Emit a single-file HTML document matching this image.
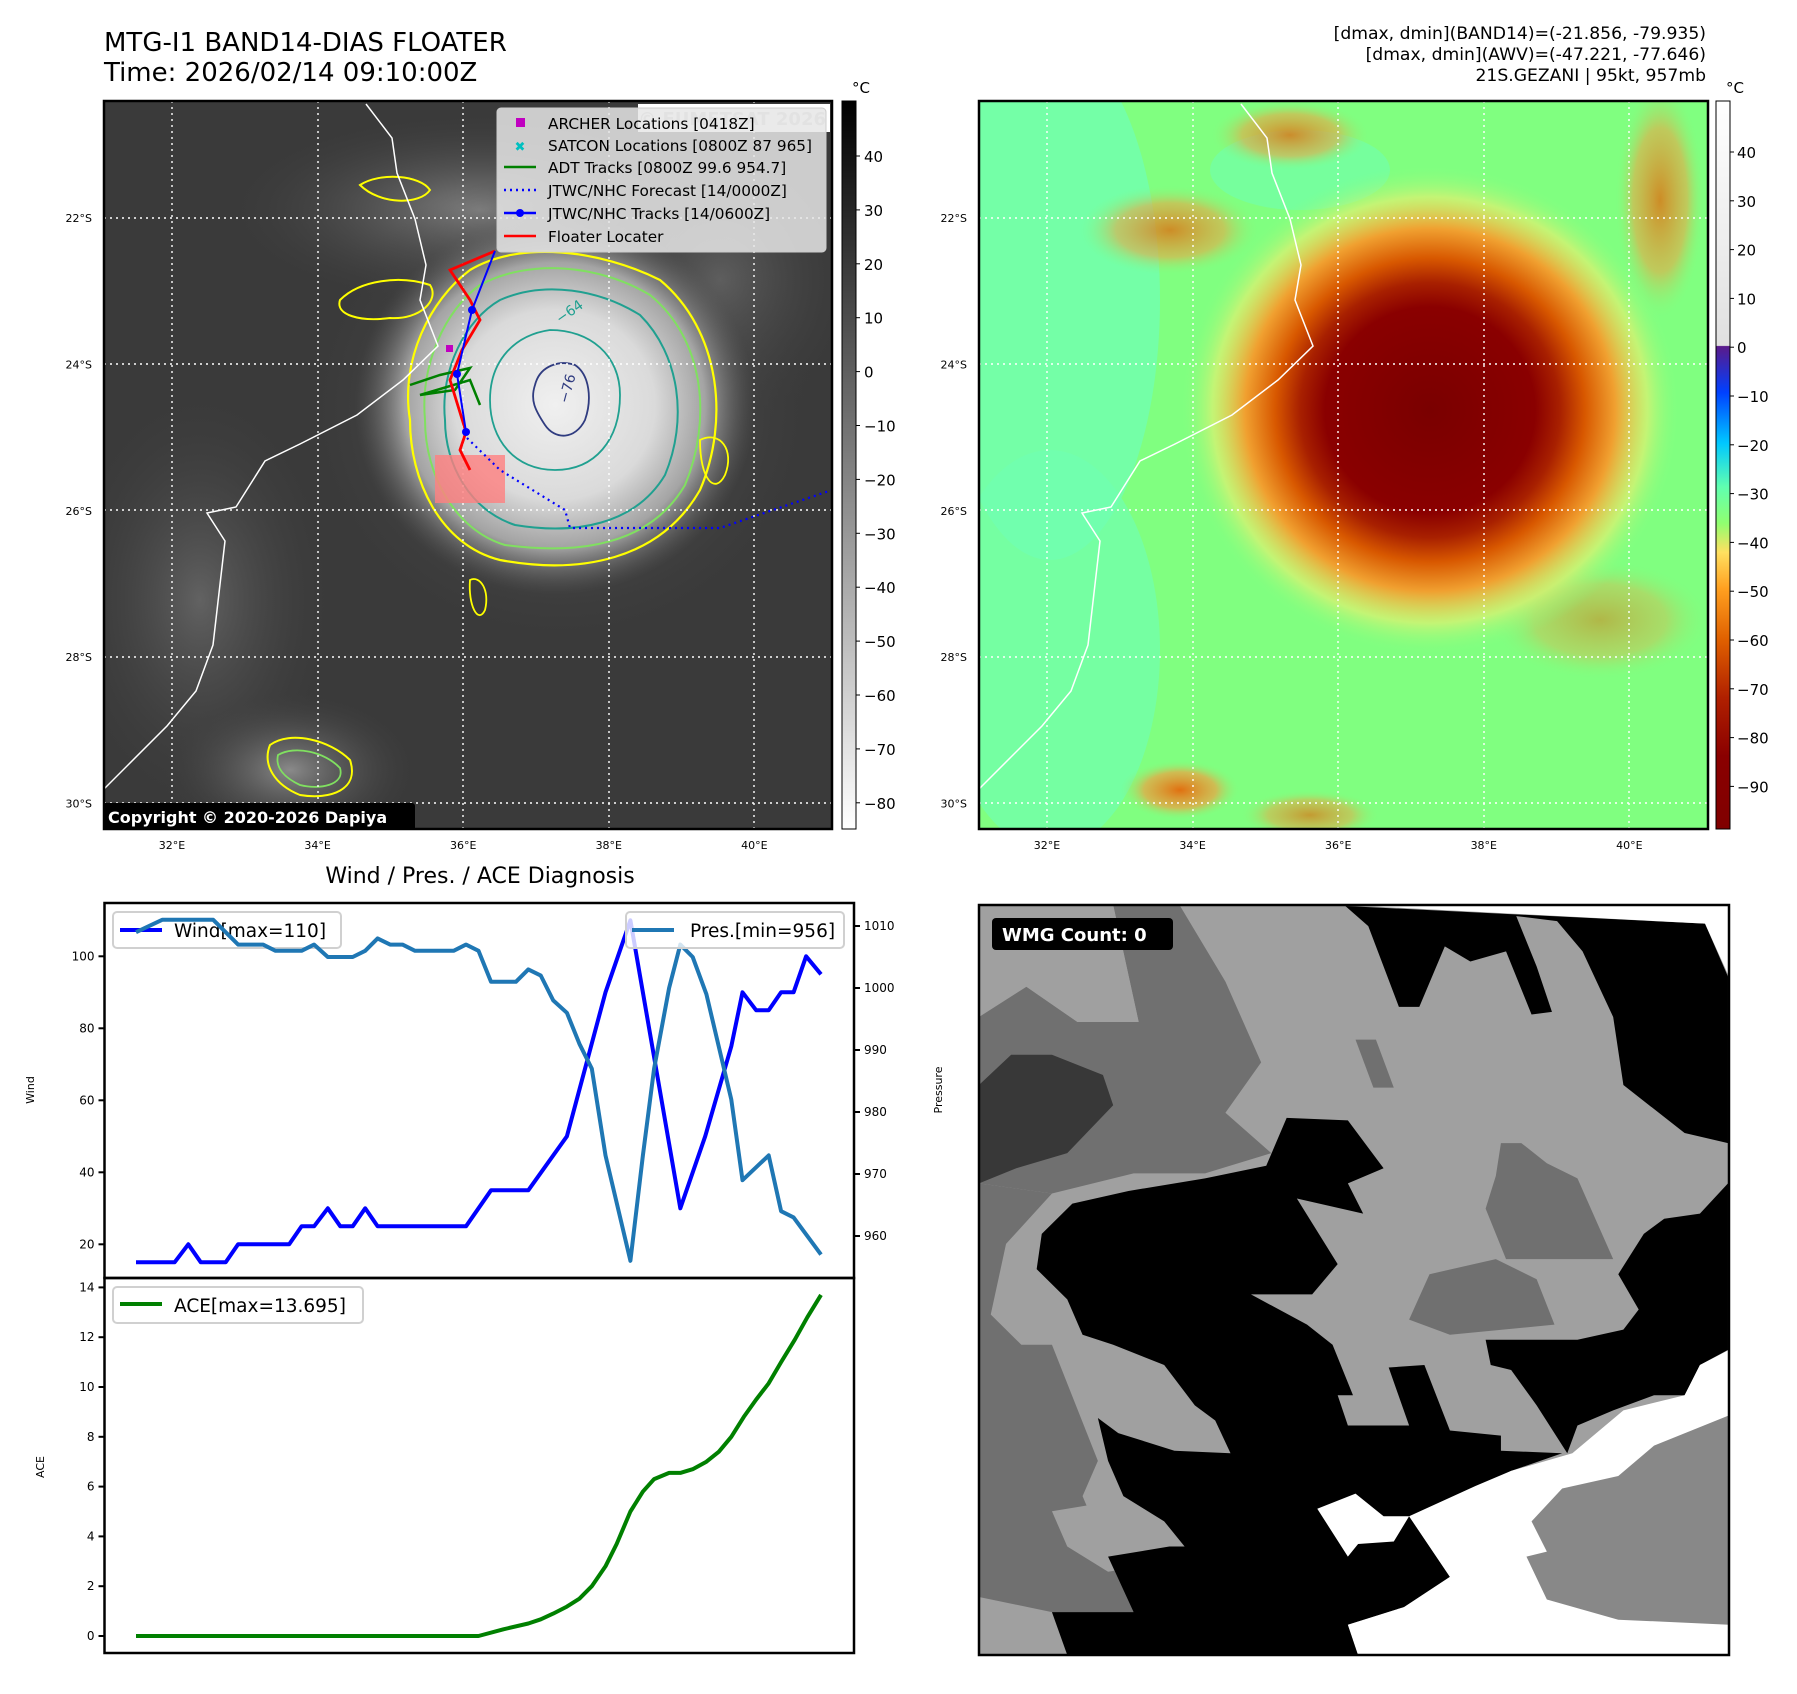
<!DOCTYPE html>
<html><head><meta charset="utf-8">
<style>
html,body{margin:0;padding:0;background:#fff;}
body{width:1797px;height:1690px;overflow:hidden;position:relative;font-family:"DejaVu Sans","Liberation Sans",sans-serif;}
svg text{font-family:"DejaVu Sans","Liberation Sans",sans-serif;}
</style></head>
<body>
<svg id="root" width="1797" height="1690" viewBox="0 0 1797 1690" xmlns="http://www.w3.org/2000/svg">
<defs>
  <clipPath id="clipTL"><rect x="104" y="101" width="728" height="728"/></clipPath>
  <clipPath id="clipTR"><rect x="979" y="101" width="729" height="728"/></clipPath>
  <clipPath id="clipBR"><rect x="979" y="905" width="750" height="750"/></clipPath>
  <radialGradient id="cloudCore" cx="0.5" cy="0.5" r="0.5">
    <stop offset="0" stop-color="#f0f0f0"/>
    <stop offset="0.5" stop-color="#dadada"/>
    <stop offset="0.75" stop-color="#b4b4b4" stop-opacity="0.85"/>
    <stop offset="1" stop-color="#606060" stop-opacity="0"/>
  </radialGradient>
  <radialGradient id="cloudHaze" cx="0.5" cy="0.5" r="0.5">
    <stop offset="0" stop-color="#8a8a8a"/>
    <stop offset="1" stop-color="#3a3a3a" stop-opacity="0"/>
  </radialGradient>
  <radialGradient id="stormTR" cx="0.5" cy="0.5" r="0.5">
    <stop offset="0" stop-color="#7a0000"/>
    <stop offset="0.42" stop-color="#8a0000"/>
    <stop offset="0.52" stop-color="#a82000"/>
    <stop offset="0.62" stop-color="#d85800"/>
    <stop offset="0.74" stop-color="#f0a030"/>
    <stop offset="0.87" stop-color="#e0f070" stop-opacity="0.7"/>
    <stop offset="1" stop-color="#80ff80" stop-opacity="0"/>
  </radialGradient>
  <radialGradient id="orangeBlob" cx="0.5" cy="0.5" r="0.5">
    <stop offset="0" stop-color="#e07010"/>
    <stop offset="0.6" stop-color="#f0a040" stop-opacity="0.7"/>
    <stop offset="1" stop-color="#80ff80" stop-opacity="0"/>
  </radialGradient>
  <linearGradient id="cbGray" x1="0" y1="0" x2="0" y2="1">
    <stop offset="0" stop-color="#000"/>
    <stop offset="1" stop-color="#fff"/>
  </linearGradient>
  <linearGradient id="cbColor" x1="0" y1="0" x2="0" y2="1">
    <stop offset="0" stop-color="#ffffff"/>
    <stop offset="0.336" stop-color="#e0e0e0"/>
    <stop offset="0.337" stop-color="#5a1a8a"/>
    <stop offset="0.40" stop-color="#0040ff"/>
    <stop offset="0.47" stop-color="#00c8ff"/>
    <stop offset="0.53" stop-color="#60ffb0"/>
    <stop offset="0.58" stop-color="#90ff70"/>
    <stop offset="0.62" stop-color="#ffe060"/>
    <stop offset="0.67" stop-color="#ffa020"/>
    <stop offset="0.74" stop-color="#e06000"/>
    <stop offset="0.82" stop-color="#b02000"/>
    <stop offset="0.9" stop-color="#8a0000"/>
    <stop offset="1" stop-color="#800000"/>
  </linearGradient>
</defs>

<!-- Titles -->
<text x="104" y="51" font-size="26" fill="#000">MTG-I1 BAND14-DIAS FLOATER</text>
<text x="104" y="81" font-size="26" fill="#000">Time: 2026/02/14 09:10:00Z</text>
<text x="1706" y="39" font-size="17.2" text-anchor="end">[dmax, dmin](BAND14)=(-21.856, -79.935)</text>
<text x="1706" y="60" font-size="17.2" text-anchor="end">[dmax, dmin](AWV)=(-47.221, -77.646)</text>
<text x="1706" y="81" font-size="17.2" text-anchor="end">21S.GEZANI | 95kt, 957mb</text>

<!-- ===== Top-left IR map ===== -->
<g clip-path="url(#clipTL)">
  <rect x="104" y="101" width="728" height="728" fill="#3a3a3a"/>
  <ellipse cx="480" cy="210" rx="260" ry="100" fill="url(#cloudHaze)" opacity="0.9"/>
  <ellipse cx="200" cy="600" rx="140" ry="220" fill="url(#cloudHaze)" opacity="0.5"/>
  <ellipse cx="290" cy="770" rx="130" ry="80" fill="url(#cloudHaze)" opacity="1"/>
  <ellipse cx="720" cy="280" rx="140" ry="150" fill="url(#cloudHaze)" opacity="0.5"/>
  <ellipse cx="560" cy="410" rx="260" ry="240" fill="url(#cloudHaze)" opacity="0.9"/>
  <ellipse cx="555" cy="405" rx="200" ry="190" fill="url(#cloudCore)"/>
  <path d="M410,420 C400,360 430,300 470,270 C520,240 600,250 660,280 C720,330 730,420 700,490 C660,560 580,575 500,560 C440,545 410,480 410,420 Z" fill="none" stroke="#ffff00" stroke-width="2.2"/>
  <path d="M425,420 C420,365 445,310 480,285 C530,258 600,265 650,295 C705,340 712,420 685,485 C650,545 580,555 505,545 C455,530 425,475 425,420 Z" fill="none" stroke="#80e060" stroke-width="2"/>
  <path d="M445,420 C440,370 465,320 500,300 C545,280 600,290 640,315 C680,355 688,420 665,475 C635,525 575,535 515,525 C470,510 445,465 445,420 Z" fill="none" stroke="#20a090" stroke-width="2"/>
  <path d="M490,400 C490,360 515,335 550,330 C590,330 620,355 620,395 C620,440 595,470 555,470 C515,470 490,440 490,400 Z" fill="none" stroke="#20a090" stroke-width="1.8"/>
  <path d="M535,385 C540,365 560,360 575,365 C590,375 592,400 585,420 C575,440 555,440 545,425 C535,410 530,400 535,385 Z" fill="none" stroke="#303c80" stroke-width="1.8"/>
  <text x="560" y="324" font-size="14" fill="#20a090" transform="rotate(-35 560 324)">−64</text>
  <text x="568" y="404" font-size="14" fill="#303c80" transform="rotate(-75 568 404)">−76</text>
  <path d="M340,300 C360,280 400,275 430,285 C440,300 420,320 390,318 C360,322 335,315 340,300 Z" fill="none" stroke="#ffff00" stroke-width="2"/>
  <path d="M360,185 C380,172 420,175 430,190 C420,205 380,205 360,185 Z" fill="none" stroke="#ffff00" stroke-width="2"/>
  <path d="M270,745 C290,730 330,740 350,760 C360,790 330,800 300,795 C275,785 262,765 270,745 Z" fill="none" stroke="#ffff00" stroke-width="2"/>
  <path d="M278,755 C295,745 325,752 340,768 C345,785 320,790 300,785 C285,778 275,768 278,755 Z" fill="none" stroke="#80e060" stroke-width="1.8"/>
  <path d="M700,440 C720,430 735,450 725,475 C715,495 700,480 700,440 Z" fill="none" stroke="#ffff00" stroke-width="1.8"/>
  <path d="M470,580 C480,575 490,590 485,610 C478,625 468,605 470,580 Z" fill="none" stroke="#ffff00" stroke-width="1.8"/>
  <g stroke="#fff" stroke-width="1.4" stroke-dasharray="2,4">
    <line x1="172" y1="101" x2="172" y2="829"/><line x1="318" y1="101" x2="318" y2="829"/><line x1="463" y1="101" x2="463" y2="829"/><line x1="609" y1="101" x2="609" y2="829"/><line x1="754" y1="101" x2="754" y2="829"/>
    <line x1="104" y1="218" x2="832" y2="218"/><line x1="104" y1="364" x2="832" y2="364"/><line x1="104" y1="510" x2="832" y2="510"/><line x1="104" y1="657" x2="832" y2="657"/><line x1="104" y1="803" x2="832" y2="803"/>
  </g>
  <polyline points="366,104 392,138 397,173 415,219 426,265 420,300 438,346 403,380 357,415 300,444 265,461 236,507 207,513 225,541 213,645 196,691 167,726 104,789" fill="none" stroke="#fff" stroke-width="1.5"/>
  <rect x="435" y="455" width="70" height="48" fill="#ff8080" opacity="0.8"/>
  <polyline points="467,438 500,470 565,510 570,528 720,528 832,490" fill="none" stroke="#0000ff" stroke-width="2.2" stroke-dasharray="2,4"/>
  <polyline points="410,385 440,375 470,368 455,390 420,395 470,380 480,405" fill="none" stroke="#008000" stroke-width="2.5"/>
  <polyline points="495,251 450,270 470,300 480,320 462,350 450,380 466,432 460,450 470,470" fill="none" stroke="#ff0000" stroke-width="2.8"/>
  <polyline points="495,251 472,310 457,374 466,432" fill="none" stroke="#0000ff" stroke-width="2"/>
  <circle cx="472" cy="310" r="4" fill="#0000ff"/><circle cx="457" cy="374" r="4" fill="#0000ff"/><circle cx="466" cy="432" r="4" fill="#0000ff"/>
  <rect x="446" y="345" width="7" height="7" fill="#c000c0"/>
  <rect x="638" y="104" width="192" height="28" fill="#fff"/>
  <text x="826" y="125" font-size="18" font-weight="bold" fill="#c8c8c8" text-anchor="end">© EUMETSAT 2026</text>
  <rect x="102" y="803" width="313" height="28" rx="3" fill="#000"/>
  <text x="108" y="823" font-size="16" font-weight="bold" fill="#fff">Copyright © 2020-2026 Dapiya</text>
</g>
<rect x="104" y="101" width="728" height="728" fill="none" stroke="#000" stroke-width="2.5"/>

<g>
  <rect x="497" y="108" width="329" height="144" rx="4" fill="#e6e6e6" fill-opacity="0.85" stroke="#cccccc"/>
  <rect x="516" y="118" width="9" height="9" fill="#c000c0"/>
  <text x="548" y="129" font-size="15.3">ARCHER Locations [0418Z]</text>
  <text x="520" y="151" font-size="13" fill="#00c0c0" text-anchor="middle" font-weight="bold">✖</text>
  <text x="548" y="151" font-size="15.3">SATCON Locations [0800Z 87 965]</text>
  <line x1="504" y1="167" x2="536" y2="167" stroke="#008000" stroke-width="2.5"/>
  <text x="548" y="173" font-size="15.3">ADT Tracks [0800Z 99.6 954.7]</text>
  <line x1="504" y1="190" x2="536" y2="190" stroke="#0000ff" stroke-width="2.5" stroke-dasharray="2,4"/>
  <text x="548" y="196" font-size="15.3">JTWC/NHC Forecast [14/0000Z]</text>
  <line x1="504" y1="213" x2="536" y2="213" stroke="#0000ff" stroke-width="2.5"/><circle cx="520" cy="213" r="4" fill="#0000ff"/>
  <text x="548" y="219" font-size="15.3">JTWC/NHC Tracks [14/0600Z]</text>
  <line x1="504" y1="236" x2="536" y2="236" stroke="#ff0000" stroke-width="2.5"/>
  <text x="548" y="242" font-size="15.3">Floater Locater</text>
</g>

<rect x="842" y="101" width="14" height="728" fill="url(#cbGray)" stroke="#000" stroke-width="1"/>
<text x="852" y="93" font-size="15">°C</text>
<g id="cbTicksTL" font-size="15"></g>

<!-- ===== Top-right colour map ===== -->
<g clip-path="url(#clipTR)">
  <rect x="979" y="101" width="729" height="728" fill="#80ff80"/>
  <ellipse cx="1050" cy="300" rx="110" ry="260" fill="#70ffb0" opacity="0.8"/>
  <ellipse cx="1050" cy="650" rx="110" ry="200" fill="#70ffb0" opacity="0.7"/>
  <ellipse cx="1300" cy="170" rx="90" ry="40" fill="#70ffb0" opacity="0.6"/>
  <ellipse cx="1170" cy="230" rx="90" ry="45" fill="url(#orangeBlob)" opacity="0.8"/>
  <ellipse cx="1290" cy="135" rx="80" ry="35" fill="url(#orangeBlob)" opacity="0.8"/>
  <ellipse cx="1660" cy="200" rx="45" ry="120" fill="url(#orangeBlob)" opacity="0.8"/>
  <ellipse cx="1180" cy="790" rx="60" ry="30" fill="url(#orangeBlob)"/>
  <ellipse cx="1310" cy="815" rx="70" ry="25" fill="url(#orangeBlob)" opacity="0.7"/>
  <ellipse cx="1600" cy="620" rx="110" ry="60" fill="url(#orangeBlob)" opacity="0.5"/>
  <ellipse cx="1430" cy="410" rx="250" ry="245" fill="url(#stormTR)"/>
  <g stroke="#fff" stroke-width="1.4" stroke-dasharray="2,4">
    <line x1="1047" y1="101" x2="1047" y2="829"/><line x1="1193" y1="101" x2="1193" y2="829"/><line x1="1338" y1="101" x2="1338" y2="829"/><line x1="1484" y1="101" x2="1484" y2="829"/><line x1="1629" y1="101" x2="1629" y2="829"/>
    <line x1="979" y1="218" x2="1708" y2="218"/><line x1="979" y1="364" x2="1708" y2="364"/><line x1="979" y1="510" x2="1708" y2="510"/><line x1="979" y1="657" x2="1708" y2="657"/><line x1="979" y1="803" x2="1708" y2="803"/>
  </g>
  <polyline points="1241,104 1267,138 1272,173 1290,219 1301,265 1295,300 1313,346 1278,380 1232,415 1175,444 1140,461 1111,507 1082,513 1100,541 1088,645 1071,691 1042,726 979,789" fill="none" stroke="#fff" stroke-width="1.5"/>
</g>
<rect x="979" y="101" width="729" height="728" fill="none" stroke="#000" stroke-width="2.5"/>
<rect x="1716" y="101" width="14" height="728" fill="url(#cbColor)" stroke="#000" stroke-width="1"/>
<text x="1726" y="93" font-size="15">°C</text>
<g id="cbTicksTR" font-size="15"></g>

<g id="mapLabels" font-size="11"></g>

<!-- ===== Bottom-left charts ===== -->
<text x="480" y="883" font-size="22" text-anchor="middle">Wind / Pres. / ACE Diagnosis</text>
<g id="windChart"></g>
<g id="aceChart"></g>

<!-- ===== Bottom-right WMG panel ===== -->
<g clip-path="url(#clipBR)">
  <svg x="979" y="905" width="750" height="750" viewBox="37 28 1470 1487" preserveAspectRatio="none">
    <rect x="37" y="28" width="1470" height="1487" fill="#a0a0a0"/>
    <polygon fill="#707070" points="300,28 430,28 520,180 590,340 520,440 610,520 480,560 340,560 180,600 37,580 37,250 130,190 230,260 350,260"/>
    <polygon fill="#a0a0a0" points="37,28 300,28 350,260 230,260 130,190 37,200"/>
    <polygon fill="#383838" points="37,385 100,325 180,325 280,365 300,425 210,520 110,550 37,580"/>
    <polygon fill="#707070" points="37,580 180,600 90,700 60,840 120,900 180,900 270,1130 240,1200 290,1320 340,1430 180,1430 210,1515 37,1515"/>
    <polygon fill="#a0a0a0" points="37,1400 180,1430 210,1515 37,1515"/>
    <polygon fill="#a0a0a0" points="180,1230 330,1205 440,1280 410,1330 290,1350 210,1300"/>
    <polygon fill="#707070" points="1060,500 1100,500 1150,540 1210,570 1280,730 1070,730 1030,630 1050,565"/>
    <polygon fill="#707070" points="880,850 920,760 1050,730 1130,770 1165,860 960,880"/>
    <polygon fill="#707070" points="775,295 815,295 850,390 810,390"/>
    <polygon fill="#000" points="160,680 220,620 330,595 480,570 600,545 640,450 760,455 830,550 760,580 790,640 660,610 740,740 690,800 570,800 680,860 730,900 770,1000 740,1000 760,1060 880,1060 840,945 910,940 960,1070 1060,1080 1060,1110 1180,1115 1080,1150 1020,1180 960,1240 880,1240 960,1360 870,1420 760,1455 780,1515 210,1515 180,1430 340,1430 290,1320 410,1300 440,1300 400,1250 320,1200 290,1130 270,1045 310,1075 420,1110 530,1115 500,1050 460,1020 400,940 300,900 240,880 210,810 150,750"/>
    <polygon fill="#000" points="1030,890 1210,890 1300,870 1330,830 1290,760 1340,680 1380,650 1450,640 1505,580 1505,910 1450,940 1420,1000 1360,1000 1280,1030 1210,1060 1190,1115 1130,1020 1080,950 1040,940"/>
    <polygon fill="#000" points="755,30 1460,65 1505,170 1505,500 1420,480 1300,385 1280,250 1220,120 1170,60 1090,50 1130,150 1160,240 1120,245 1070,120 1000,140 950,110 900,230 860,230 800,70"/>
    <polygon fill="#fff" points="755,28 1507,28 1507,170 1460,65 1080,45"/>
    <polygon fill="#fff" points="700,1225 775,1195 830,1240 880,1240 1010,1180 1080,1150 1200,1115 1300,1030 1420,1000 1450,940 1507,910 1507,1515 780,1515 760,1455 870,1420 960,1360 880,1240 850,1290 780,1295 760,1320"/>
    <polygon fill="#888888" points="1110,1320 1150,1310 1120,1250 1180,1185 1290,1160 1360,1100 1507,1040 1507,1455 1290,1445 1150,1405"/>
  </svg>
  <rect x="992" y="918" width="181" height="32" rx="4" fill="#000"/>
  <text x="1002" y="941" font-size="18" font-weight="bold" fill="#fff">WMG Count: 0</text>
</g>
<rect x="979" y="905" width="750" height="750" fill="none" stroke="#000" stroke-width="2.5"/>
</svg>

<script>
// ---- chart data ----
const timeIdx = [0,3.1,4.2,5.2,7.2,8.2,12.3,13.3,14.3,15.4,16.4,17.4,18.4,19.4,26.5,28.5,31.5,34.6,37.7,39.7,43.7,45.7,47.8,48.7,49.8,50.8,51.8,52.8,53.8,55];
const windValues = [15,15,20,15,15,20,20,25,25,30,25,25,30,25,25,35,35,50,90,110,30,50,75,90,85,85,90,90,100,95];
const presTime = [0,2.1,6.2,8.2,10.2,11.2,13.3,14.3,15.4,17.4,18.4,19.4,20.4,21.4,22.4,25.5,26.5,27.5,28.5,30.5,31.5,32.5,33.5,34.6,35.6,36.6,37.7,39.7,40.7,41.6,42.8,43.7,44.7,45.8,47.8,48.7,50.8,51.8,52.8,55];
const presValues = [1009,1011,1011,1007,1007,1006,1006,1007,1005,1005,1006,1008,1007,1007,1006,1006,1007,1006,1001,1001,1003,1002,998,996,991,987,973,956,973,987,1000,1007,1005,999,982,969,973,964,963,957];
const aceTime = [0,27.5,29.5,31.5,32.5,33.5,34.6,35.6,36.6,37.7,38.6,39.7,40.7,41.6,42.8,43.7,44.7,45.8,46.8,47.8,48.8,49.8,50.8,51.8,52.9,53.9,55];
const aceValues = [0,0,0.27,0.5,0.67,0.9,1.18,1.5,2,2.8,3.7,5,5.8,6.3,6.55,6.55,6.7,7,7.4,8,8.8,9.5,10.15,11,11.9,12.8,13.7];
const windTicks = [20,40,60,80,100];
const presTicks = [960,970,980,990,1000,1010];
const aceTicks = [0,2,4,6,8,10,12,14];
const cbTicksTL = [40,30,20,10,0,-10,-20,-30,-40,-50,-60,-70,-80];
const cbTicksTR = [40,30,20,10,0,-10,-20,-30,-40,-50,-60,-70,-80,-90];
const latTicks = [22,24,26,28,30];
const lonTicks = [32,34,36,38,40];

const NS = 'http://www.w3.org/2000/svg';
function mk(tag, attrs, parent){const e=document.createElementNS(NS,tag);for(const k in attrs)e.setAttribute(k,attrs[k]);parent.appendChild(e);return e;}
function fmt(v){return v<0?'\u2212'+Math.abs(v):String(v);}

const X0=104.5, X1=854, WT=903, WB=1278, AB=1653;
const xS = t => 136 + t*(821-136)/55;
const yWind = v => 956.3 + (100-v)*3.6;
const yPres = p => 926 + (1010-p)*6.2;
const yAce = v => 1636 - v*24.9;

const wg = document.getElementById('windChart');
const ag = document.getElementById('aceChart');

let pts = timeIdx.map((t,i)=>xS(t).toFixed(1)+','+yWind(windValues[i]).toFixed(1)).join(' ');
let wl = mk('polyline',{points:pts,fill:'none',stroke:'#0000ff','stroke-width':4,'stroke-linejoin':'round'},wg);


let lg=mk('g',{},wg);


mk('rect',{x:113,y:912,width:228,height:36,rx:4,fill:'#fff','fill-opacity':0.8,stroke:'#d0d0d0','stroke-width':2},lg);
mk('line',{x1:120,y1:930,x2:162,y2:930,stroke:'#0000ff','stroke-width':4},lg);
let tt=mk('text',{x:174,y:937,'font-size':18.5},lg);tt.textContent='Wind[max=110]';
pts = presTime.map((t,i)=>xS(t).toFixed(1)+','+yPres(presValues[i]).toFixed(1)).join(' ');
let pl = mk('polyline',{points:pts,fill:'none',stroke:'#1f77b4','stroke-width':4,'stroke-linejoin':'round'},wg);


lg=mk('g',{},wg);


mk('rect',{x:626,y:912,width:218,height:36,rx:4,fill:'#fff','fill-opacity':0.8,stroke:'#d0d0d0','stroke-width':2},lg);
mk('line',{x1:632,y1:930,x2:674,y2:930,stroke:'#1f77b4','stroke-width':4},lg);
tt=mk('text',{x:690,y:937,'font-size':18.5},lg);tt.textContent='Pres.[min=956]';
mk('rect',{x:X0,y:WT,width:X1-X0,height:WB-WT,fill:'none',stroke:'#000','stroke-width':2.5},wg);
windTicks.forEach(v=>{const y=yWind(v);
  mk('line',{x1:X0-6,y1:y,x2:X0,y2:y,stroke:'#000','stroke-width':2},wg);
  const t=mk('text',{x:X0-10,y:y+4,'font-size':12,'text-anchor':'end'},wg);t.textContent=v;
  
  });
presTicks.forEach(v=>{const y=yPres(v);
  mk('line',{x1:X1,y1:y,x2:X1+6,y2:y,stroke:'#000','stroke-width':2},wg);
  const t=mk('text',{x:X1+10,y:y+4,'font-size':12},wg);t.textContent=v;
  
  });
let yl=mk('text',{x:34,y:1090,'font-size':11,'text-anchor':'middle',transform:'rotate(-90 34 1090)'},wg);yl.textContent='Wind';


yl=mk('text',{x:942,y:1090,'font-size':11,'text-anchor':'middle',transform:'rotate(-90 942 1090)'},wg);yl.textContent='Pressure';



pts = aceTime.map((t,i)=>xS(t).toFixed(1)+','+yAce(aceValues[i]).toFixed(1)).join(' ');
let al = mk('polyline',{points:pts,fill:'none',stroke:'#008000','stroke-width':4,'stroke-linejoin':'round'},ag);


mk('rect',{x:X0,y:WB,width:X1-X0,height:AB-WB,fill:'none',stroke:'#000','stroke-width':2.5},ag);
aceTicks.forEach(v=>{const y=yAce(v);
  mk('line',{x1:X0-6,y1:y,x2:X0,y2:y,stroke:'#000','stroke-width':2},ag);
  const t=mk('text',{x:X0-10,y:y+4,'font-size':12,'text-anchor':'end'},ag);t.textContent=v;
  
  });
yl=mk('text',{x:44,y:1467,'font-size':11,'text-anchor':'middle',transform:'rotate(-90 44 1467)'},ag);yl.textContent='ACE';


lg=mk('g',{},ag);


mk('rect',{x:113,y:1287,width:250,height:36,rx:4,fill:'#fff','fill-opacity':0.8,stroke:'#d0d0d0','stroke-width':2},lg);
mk('line',{x1:120,y1:1304,x2:162,y2:1304,stroke:'#008000','stroke-width':4},lg);
tt=mk('text',{x:174,y:1312,'font-size':18.5},lg);tt.textContent='ACE[max=13.695]';

const cbl = document.getElementById('cbTicksTL');
cbTicksTL.forEach(v=>{const y=156+(40-v)*5.39;
  mk('line',{x1:856,y1:y,x2:860,y2:y,stroke:'#000'},cbl);
  const t=mk('text',{x:864,y:y+6},cbl);t.textContent=fmt(v);
  
  });
const cbr = document.getElementById('cbTicksTR');
cbTicksTR.forEach(v=>{const y=152+(40-v)*4.88;
  mk('line',{x1:1730,y1:y,x2:1734,y2:y,stroke:'#000'},cbr);
  const t=mk('text',{x:1737,y:y+6},cbr);t.textContent=fmt(v);
  
  });

const ml = document.getElementById('mapLabels');
[104,979].forEach(left=>{
  latTicks.forEach(la=>{const y=218+(la-22)*73.2;
    const t=mk('text',{x:left-12,y:y+4,'text-anchor':'end'},ml);t.textContent=la+'°S';
    
    });
  lonTicks.forEach(lo=>{const x=left+68+(lo-32)*72.8;
    const t=mk('text',{x:x,y:849,'text-anchor':'middle'},ml);t.textContent=lo+'°E';
    
    });
});
</script>
</body></html>
